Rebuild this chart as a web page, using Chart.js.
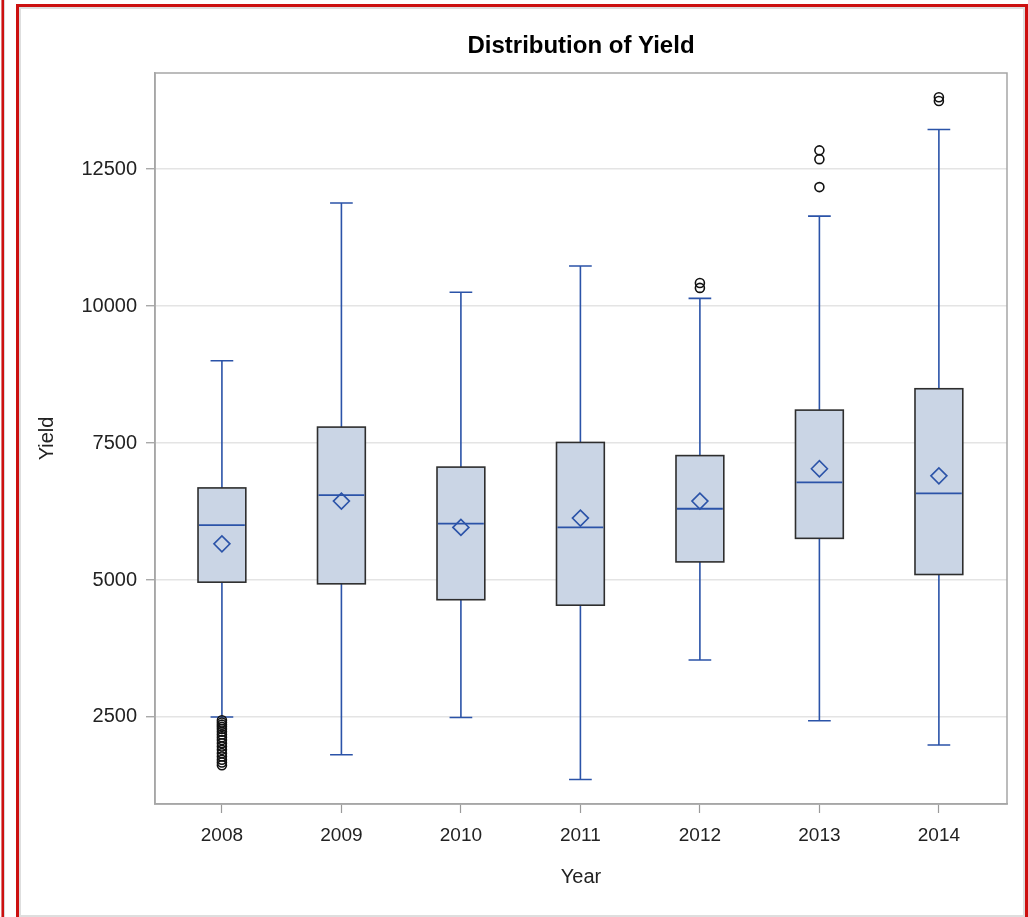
<!DOCTYPE html>
<html>
<head>
<meta charset="utf-8">
<title>Distribution of Yield</title>
<script src="https://cdn.jsdelivr.net/npm/chart.js@4/dist/chart.umd.min.js"></script>
<style>
  html, body { margin: 0; padding: 0; background: #ffffff; }
  #wrap { position: relative; width: 1028px; height: 917px; overflow: hidden; background: #fff; }
  #c { position: absolute; left: 0; top: 0; }
  .frame { position: absolute; pointer-events: none; box-sizing: border-box; }
  #strip { left: 1px; top: 0; width: 4px; height: 917px; border-left: 1px solid #e07a7a; background: #cc1010; border-right: 1px solid #d9d9d9; }
  #outer { left: 16px; top: 4px; width: 1012px; height: 920px; border-left: 3px solid #cc1010; border-top: 3px solid #cc1010; border-right: 3px solid #cc1010; }
  #inner { left: 19px; top: 7px; width: 1006px; height: 910px; border: 2px solid #dedede; }
</style>
</head>
<body>
<div id="wrap">
  <canvas id="c" width="1028" height="917"></canvas>
  <div class="frame" id="strip"></div>
  <div class="frame" id="outer"></div>
  <div class="frame" id="inner"></div>
</div>
<script>
// Yield summary statistics per year
const years        = ['2008', '2009', '2010', '2011', '2012', '2013', '2014'];
const whiskerLow   = [2500, 1810, 2490, 1360, 3540, 2430, 1990];
const q1           = [4960, 4930, 4640, 4540, 5330, 5760, 5100];
const median       = [6000, 6550, 6030, 5960, 6300, 6780, 6580];
const q3           = [6680, 7790, 7060, 7510, 7270, 8100, 8490];
const whiskerHigh  = [9000, 11880, 10250, 10730, 10140, 11640, 13220];
const mean         = [5660, 6440, 5960, 6130, 6440, 7030, 6900];
const outliers     = [
  [2440, 2400, 2360, 2320, 2280, 2230, 2180, 2130, 2080, 2020, 1960, 1900, 1840, 1780, 1720, 1670, 1620],
  [],
  [],
  [],
  [10420, 10330],
  [12840, 12680, 12170],
  [13810, 13740]
];
const yTicks = [2500, 5000, 7500, 10000, 12500];

const BLUE = '#2b53a8';
const BOX_FILL = '#cad5e5';
const BOX_EDGE = '#2e2e2e';
const BOX_WIDTH = 0.40;   // in category units
const CAP_WIDTH = 0.19;

const meanPoints = mean.map((v, i) => ({ x: i, y: v }));
const outlierPoints = [];
outliers.forEach((list, i) => list.forEach(v => outlierPoints.push({ x: i, y: v })));

const FONT = "'Liberation Sans', Arial, Helvetica, sans-serif";
const TITLE_SIZE = 24;
const TITLE_CENTER = 46;   // vertical centre of the title line, px
const PLOT_TOP = 73;       // top edge of the plot area, px

// Boxes, whiskers and medians, drawn beneath the mean and outlier markers
const boxPlot = {
  id: 'boxPlot',
  beforeDatasetsDraw(chart) {
    const ctx = chart.ctx;
    const xs = chart.scales.x, ys = chart.scales.y;
    ctx.save();
    years.forEach((_, i) => {
      const cx = xs.getPixelForValue(i);
      const bl = xs.getPixelForValue(i - BOX_WIDTH / 2);
      const br = xs.getPixelForValue(i + BOX_WIDTH / 2);
      const cl = xs.getPixelForValue(i - CAP_WIDTH / 2);
      const cr = xs.getPixelForValue(i + CAP_WIDTH / 2);
      const yLo = ys.getPixelForValue(whiskerLow[i]);
      const yQ1 = ys.getPixelForValue(q1[i]);
      const yMd = ys.getPixelForValue(median[i]);
      const yQ3 = ys.getPixelForValue(q3[i]);
      const yHi = ys.getPixelForValue(whiskerHigh[i]);

      // whiskers and caps
      ctx.strokeStyle = BLUE;
      ctx.lineWidth = 1.6;
      ctx.beginPath();
      ctx.moveTo(cx, yQ1); ctx.lineTo(cx, yLo);
      ctx.moveTo(cx, yQ3); ctx.lineTo(cx, yHi);
      ctx.moveTo(cl, yLo); ctx.lineTo(cr, yLo);
      ctx.moveTo(cl, yHi); ctx.lineTo(cr, yHi);
      ctx.stroke();

      // interquartile box
      ctx.fillStyle = BOX_FILL;
      ctx.fillRect(bl, yQ3, br - bl, yQ1 - yQ3);
      ctx.strokeStyle = BOX_EDGE;
      ctx.lineWidth = 1.6;
      ctx.strokeRect(bl, yQ3, br - bl, yQ1 - yQ3);

      // median
      ctx.strokeStyle = BLUE;
      ctx.lineWidth = 1.8;
      ctx.beginPath();
      ctx.moveTo(bl + 1, yMd); ctx.lineTo(br - 1, yMd);
      ctx.stroke();
    });
    ctx.restore();
  },
  afterDraw(chart) {
    // frame around the plot area
    const a = chart.chartArea, ctx = chart.ctx;
    ctx.save();
    ctx.strokeStyle = '#a6a6a6';
    ctx.lineWidth = 1.5;
    ctx.strokeRect(a.left, a.top, a.right - a.left, a.bottom - a.top);
    ctx.restore();
  }
};

new Chart(document.getElementById('c'), {
  type: 'scatter',
  data: {
    datasets: [
      {
        label: 'Mean',
        data: meanPoints,
        pointStyle: 'rectRot',
        pointRadius: 8,
        pointHoverRadius: 8,
        borderColor: BLUE,
        backgroundColor: 'rgba(0,0,0,0)',
        pointBorderWidth: 1.6
      },
      {
        label: 'Outliers',
        data: outlierPoints,
        pointStyle: 'circle',
        pointRadius: 4.5,
        pointHoverRadius: 4.5,
        borderColor: '#111111',
        backgroundColor: 'rgba(0,0,0,0)',
        pointBorderWidth: 1.6
      }
    ]
  },
  options: {
    responsive: false,
    animation: false,
    events: [],
    layout: { padding: { left: 20, right: 21, top: 0, bottom: 0 } },
    plugins: {
      legend: { display: false },
      tooltip: { enabled: false },
      title: {
        display: true,
        fullSize: false,
        text: 'Distribution of Yield',
        color: '#000',
        font: { family: FONT, size: TITLE_SIZE, weight: 'bold', lineHeight: 1.2 },
        padding: {
          top: TITLE_CENTER - TITLE_SIZE * 0.6,
          bottom: PLOT_TOP - TITLE_CENTER - TITLE_SIZE * 0.6
        }
      }
    },
    scales: {
      x: {
        type: 'linear',
        min: -0.56,
        max: 6.57,
        afterBuildTicks(scale) { scale.ticks = years.map((_, i) => ({ value: i })); },
        afterFit(scale) { scale.height = 113; },
        ticks: {
          callback: (v) => years[v],
          color: '#222',
          font: { family: FONT, size: 19 },
          padding: 11,
          maxRotation: 0
        },
        grid: { drawOnChartArea: false, drawTicks: true, tickLength: 9, tickColor: '#9a9a9a', tickWidth: 1.2 },
        border: { display: true, color: '#a6a6a6', width: 1.5 },
        title: {
          display: true,
          text: 'Year',
          color: '#222',
          font: { family: FONT, size: 20, lineHeight: 1.2 },
          padding: { top: 0, bottom: 28 }
        }
      },
      y: {
        type: 'linear',
        min: 912,
        max: 14252,
        afterBuildTicks(scale) { scale.ticks = yTicks.map(v => ({ value: v })); },
        afterFit(scale) { scale.width = 135; },
        ticks: {
          callback: (v) => String(v),
          color: '#222',
          font: { family: FONT, size: 20 },
          padding: 9
        },
        grid: { color: '#e4e4e4', lineWidth: 1.5, drawTicks: true, tickLength: 9, tickColor: '#9a9a9a', tickWidth: 1.2 },
        border: { display: true, color: '#a6a6a6', width: 1.5 },
        title: {
          display: true,
          text: 'Yield',
          color: '#222',
          font: { family: FONT, size: 20 },
          padding: { top: 15, bottom: 0 }
        }
      }
    }
  },
  plugins: [boxPlot]
});
</script>
</body>
</html>
